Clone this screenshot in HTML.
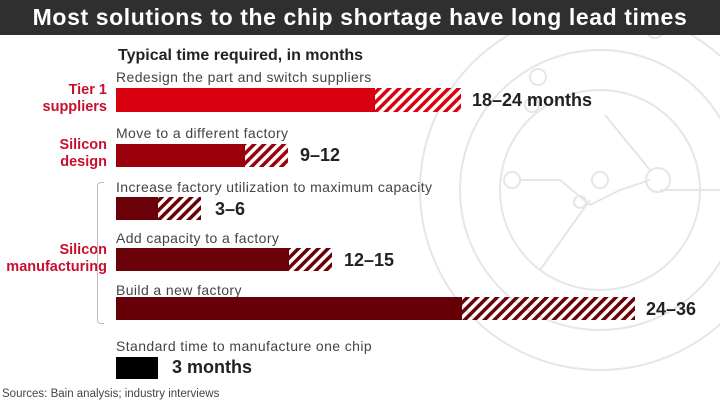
<!DOCTYPE html><html><head><style>
body{margin:0;width:720px;height:404px;background:#fff;font-family:"Liberation Sans",sans-serif;position:relative;overflow:hidden}
.a{position:absolute;white-space:nowrap}
.h{left:0;top:0;width:720px;height:35px;background:#2f2f2f;color:#fff;font-weight:bold;font-size:23px;letter-spacing:0.6px;text-align:center;line-height:35px}
.c{font-size:14px;letter-spacing:0.4px;color:#444}
.r{font-weight:bold;font-size:14.5px;text-align:right;line-height:17px;color:#c8102e}
.v{font-weight:bold;font-size:18px;color:#222}
</style></head><body>
<svg class="a" style="left:360px;top:30px" width="360" height="374" viewBox="0 0 360 374" fill="none" stroke="#e6e6e6" stroke-width="2">
<circle cx="240" cy="160" r="180"/><circle cx="240" cy="160" r="140"/><circle cx="240" cy="160" r="100"/>
<circle cx="240" cy="150" r="8"/><circle cx="178" cy="47" r="8"/><circle cx="295" cy="0" r="8"/><circle cx="172" cy="75" r="7"/><circle cx="298" cy="150" r="12"/><circle cx="152" cy="150" r="8"/><circle cx="220" cy="172" r="6"/>
<path d="M245 85 L290 140 M160 150 L200 150 L230 175 L260 160 L290 150 M230 170 L180 240 M300 160 L360 160"/>
</svg>
<div class="a h">Most solutions to the chip shortage have long lead times</div>
<div class="a" style="left:118px;top:47px;font-size:16px;font-weight:bold;color:#222">Typical time required, in months</div>
<div class="a c" style="left:116px;top:69px">Redesign the part and switch suppliers</div>
<div class="a c" style="left:116px;top:125px">Move to a different factory</div>
<div class="a c" style="left:116px;top:179px">Increase factory utilization to maximum capacity</div>
<div class="a c" style="left:116px;top:230px">Add capacity to a factory</div>
<div class="a c" style="left:116px;top:282px">Build a new factory</div>
<div class="a c" style="left:116px;top:338px">Standard time to manufacture one chip</div>
<div class="a r" style="right:613px;top:82px">Tier 1<br>suppliers</div>
<div class="a r" style="right:613px;top:137px">Silicon<br>design</div>
<div class="a r" style="right:613px;top:242px">Silicon<br>manufacturing</div>
<div class="a" style="left:97px;top:182px;width:6px;height:140px;border:1px solid #bbb;border-right:none;border-radius:4px 0 0 4px"></div>
<svg class="a" style="left:0;top:0" width="720" height="404">
<defs>
<pattern id="p1" width="7" height="7" patternUnits="userSpaceOnUse" patternTransform="rotate(45)"><rect width="3.5" height="7" fill="#d9000f"/></pattern>
<pattern id="p2" width="7" height="7" patternUnits="userSpaceOnUse" patternTransform="rotate(45)"><rect width="3.5" height="7" fill="#9a000c"/></pattern>
<pattern id="p3" width="7" height="7" patternUnits="userSpaceOnUse" patternTransform="rotate(45)"><rect width="3.5" height="7" fill="#6a0008"/></pattern>
</defs>
<rect x="116" y="88" width="259" height="24" fill="#d9000f"/><rect x="375" y="88" width="86" height="24" fill="url(#p1)"/>
<rect x="116" y="144" width="129" height="23" fill="#9a000c"/><rect x="245" y="144" width="43" height="23" fill="url(#p2)"/>
<rect x="116" y="197" width="42" height="23" fill="#6a0008"/><rect x="158" y="197" width="43" height="23" fill="url(#p3)"/>
<rect x="116" y="248" width="173" height="23" fill="#6a0008"/><rect x="289" y="248" width="43" height="23" fill="url(#p3)"/>
<rect x="116" y="297" width="346" height="23" fill="#640006"/><rect x="462" y="297" width="173" height="23" fill="url(#p3)"/>
<rect x="116" y="357" width="42" height="22" fill="#000"/>
</svg>
<div class="a v" style="left:472px;top:90px">18–24 months</div>
<div class="a v" style="left:300px;top:145px">9–12</div>
<div class="a v" style="left:215px;top:199px">3–6</div>
<div class="a v" style="left:344px;top:250px">12–15</div>
<div class="a v" style="left:646px;top:299px">24–36</div>
<div class="a v" style="left:172px;top:357px">3 months</div>
<div class="a" style="left:2px;top:388px;font-size:11.5px;color:#444">Sources: Bain analysis; industry interviews</div>
</body></html>
